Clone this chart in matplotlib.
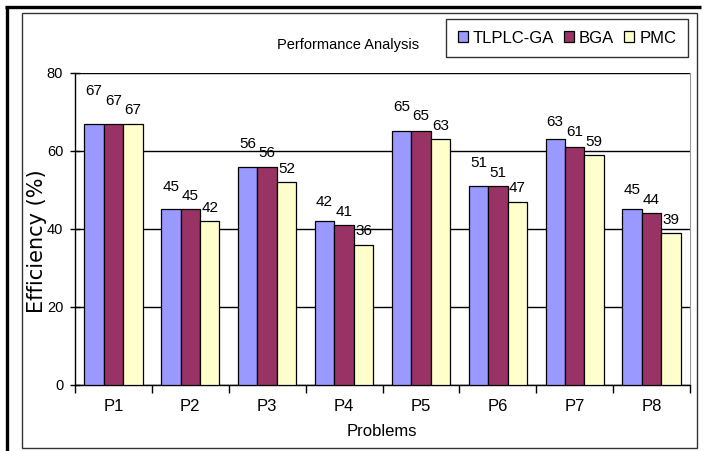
import matplotlib
matplotlib.use("Agg")
import matplotlib.pyplot as plt
from matplotlib.patches import Rectangle
from matplotlib.lines import Line2D
import numpy as np

# ---- data -------------------------------------------------------------
problems = ["P1", "P2", "P3", "P4", "P5", "P6", "P7", "P8"]
series_names = ["TLPLC-GA", "BGA", "PMC"]
tlplc_ga = [67, 45, 56, 42, 65, 51, 63, 45]
bga = [67, 45, 56, 41, 65, 51, 61, 44]
pmc = [67, 42, 52, 36, 63, 47, 59, 39]
y_ticks = [0, 20, 40, 60, 80]

series_values = [tlplc_ga, bga, pmc]
series_colors = ["#9999FF", "#993366", "#FFFFCC"]

plt.rcParams["font.family"] = ["Liberation Sans Narrow", "Liberation Sans", "DejaVu Sans"]

fig = plt.figure(figsize=(7.10, 4.51), dpi=100)
fig.patch.set_facecolor("white")

# chart frame: heavy rule on top/left, thin box inside
fig.add_artist(Line2D([6.5 / 710, 6.5 / 710], [0, 1 - 6 / 451], transform=fig.transFigure,
                      color="black", lw=2.4, solid_capstyle="butt"))
fig.add_artist(Line2D([5 / 710, 701 / 710], [1 - 6.5 / 451, 1 - 6.5 / 451], transform=fig.transFigure,
                      color="black", lw=2.4, solid_capstyle="butt"))
fig.add_artist(Rectangle((22 / 710, 1 - 448 / 451), (697 - 22) / 710, (448 - 13) / 451,
                         transform=fig.transFigure, fill=False, edgecolor="#333333", lw=1.0))

ax = fig.add_axes([75 / 710, 1 - 385 / 451, (690 - 75) / 710, (385 - 73) / 451])
ax.set_facecolor("white")

x = np.arange(len(problems))
bar_w = 0.253
offsets = [-bar_w, 0, bar_w]

for vals, col, off, name in zip(series_values, series_colors, offsets, series_names):
    ax.bar(x + off, vals, width=bar_w, color=col, edgecolor="black", linewidth=0.9,
           label=name, zorder=3)

# value labels, nudged upward so neighbours do not collide
gap = 1.6
step = 2.5
for i in range(len(problems)):
    prev = None
    for s in (2, 1, 0):
        v = series_values[s][i]
        y = v + gap
        if prev is not None:
            y = max(y, prev + step)
        prev = y
        ax.text(x[i] + offsets[s], y, f"{v}", ha="center", va="bottom",
                fontsize=11, color="black", zorder=4)

ax.set_xlim(-0.5, len(problems) - 0.5)
ax.set_ylim(0, 80)
ax.set_yticks(y_ticks)
ax.set_yticklabels([str(t) for t in y_ticks], fontsize=10.5)
ax.tick_params(axis="y", direction="inout", length=7, width=1, pad=5)

ax.set_xticks(np.arange(len(problems) + 1) - 0.5, minor=False)
ax.set_xticklabels([])
ax.set_xticks(x, minor=True)
ax.set_xticklabels(problems, minor=True, fontsize=12)
ax.tick_params(axis="x", which="major", direction="out", length=6, width=1)
ax.tick_params(axis="x", which="minor", length=0, pad=10)

ax.yaxis.grid(True, color="black", linewidth=1.0, zorder=0)
ax.set_axisbelow(True)

for side in ("left", "bottom"):
    ax.spines[side].set_color("black")
    ax.spines[side].set_linewidth(1.0)
ax.spines["right"].set_color("#999999")
ax.spines["top"].set_visible(False)

ax.text(-0.062, 0.46, "Efficiency (%)", transform=ax.transAxes, rotation=90,
        ha="center", va="center", fontsize=15, family=["DejaVu Sans"])
fig.text(382 / 710, 1 - 431 / 451, "Problems", ha="center", va="center", fontsize=12)
fig.text(348 / 710, 1 - 45 / 451, "Performance Analysis", ha="center", va="center", fontsize=10.5)

leg = fig.legend(loc="upper right", bbox_to_anchor=(688 / 710, 1 - 19 / 451),
                 bbox_transform=fig.transFigure, ncol=3, fontsize=12, frameon=True,
                 fancybox=False, handlelength=0.6, handleheight=0.6, handletextpad=0.3,
                 columnspacing=0.6, borderpad=0.7, borderaxespad=0)
leg.get_frame().set_edgecolor("black")
leg.get_frame().set_linewidth(1.0)

fig.savefig("out.png", dpi=100, facecolor="white")
